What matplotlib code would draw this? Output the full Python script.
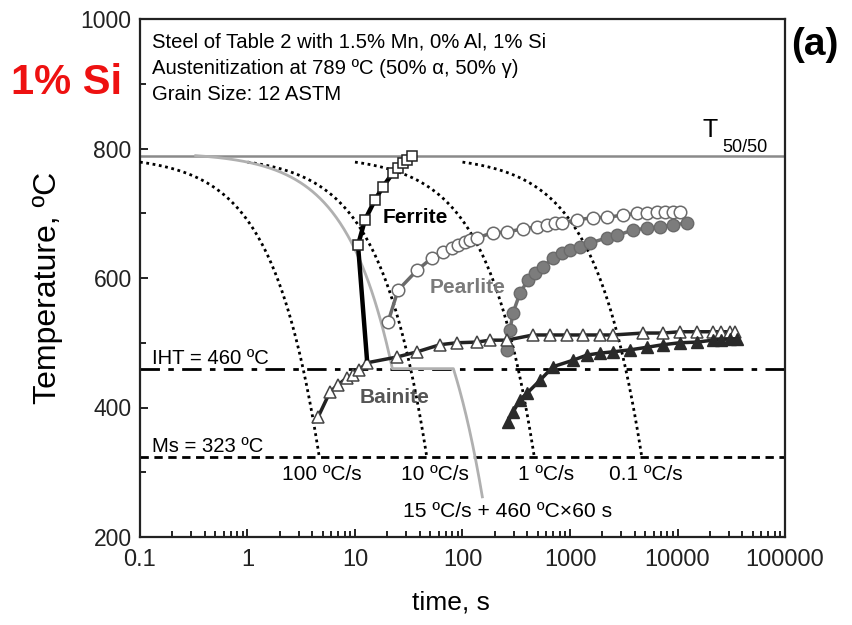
import numpy as np
import matplotlib
matplotlib.use("Agg")
import matplotlib.pyplot as plt
from matplotlib.ticker import FixedLocator, FixedFormatter, NullFormatter

plt.rcParams['font.family'] = ['Liberation Sans', 'DejaVu Sans']

# ---- data -------------------------------------------------------------
T_50_50 = 789          # start temperature (ºC)
IHT = 460              # isothermal holding temperature
MS = 323               # martensite start
cooling_rates = [100, 10, 1, 0.1]            # ºC/s
rate_labels = ["100 ºC/s", "10 ºC/s", "1 ºC/s", "0.1 ºC/s"]
rate_label_t = [4.93, 55.5, 598, 5090]

# 15 ºC/s + 460 ºC x 60 s schedule
sched_rate = 15.0
sched_start_t = 0.33
sched_hold = 60.0
sched_final_rate = 2.8
sched_end_T = 262

# ferrite start (open squares, black line)
ferrite_t = [12.9, 10.67, 12.4, 15.3, 18.2, 22.5, 25.1, 28.0, 30.5, 33.9]
ferrite_T = [476, 651, 690, 720, 741, 762, 770, 778, 783, 789]

# pearlite (open circles)
pearl_open_t = [20.3, 25.1, 37.8, 52.0, 65.9, 79.8, 90.8, 105, 117, 136, 192, 259,
                365, 493, 611, 725, 843, 1161, 1636, 2208, 3112, 4198, 5200, 6443,
                7650, 9085, 10540]
pearl_open_T = [532, 581, 612, 631, 640, 646, 651, 656, 659, 662, 670, 671,
                676, 679, 682, 685, 685, 690, 693, 694, 697, 700, 700, 702,
                702, 702, 702]

# pearlite (filled circles)
pearl_fill_t = [259, 277, 295, 343, 407, 472, 561, 695, 843, 1000, 1239, 1535,
                2208, 2735, 3855, 5200, 6871, 9085, 12250]
pearl_fill_T = [489, 520, 546, 577, 597, 608, 617, 631, 639, 643, 648, 654,
                662, 666, 674, 677, 679, 682, 685]

# bainite (open triangles)
bain_open_t = [4.53, 5.85, 6.95, 8.43, 9.58, 10.9, 12.9, 24.6, 37.8, 61.8, 88.9,
               136, 180, 259, 453, 652, 938, 1321, 1901, 2513, 4779, 7330,
               10540, 15170, 21380, 25500, 30760, 34000]
bain_open_T = [385, 424, 435, 446, 450, 458, 469, 478, 486, 497, 500,
               501, 504, 504, 512, 512, 512, 512, 512, 512, 515, 515,
               517, 517, 517, 517, 517, 517]

# bainite (filled triangles)
bain_fill_t = [265, 295, 343, 398, 526, 695, 1067, 1439, 1901, 2513, 3614, 5200,
               7330, 10540, 15170, 21380, 25500, 30760, 35700]
bain_fill_T = [378, 393, 412, 422, 442, 463, 473, 481, 484, 486, 489, 493,
               497, 500, 501, 504, 505, 506, 506]

# ---- figure -----------------------------------------------------------
fig = plt.figure(figsize=(8.53, 6.25), dpi=100)
ax = fig.add_axes([0.1641, 0.1408, 0.7562, 0.8288])
ax.set_xscale('log')
ax.set_xlim(0.1, 100000)
ax.set_ylim(200, 1000)

# T50/50 reference line
ax.axhline(T_50_50, color='#8a8a8a', lw=1.8, zorder=2)
# IHT and Ms lines
ax.axhline(IHT, color='black', lw=2.0, linestyle=(0, (7, 3, 2, 3)), zorder=2)
ax.axhline(MS, color='black', lw=2.0, linestyle=(0, (3, 2)), zorder=2)

# constant cooling-rate curves
for r, lab, lt in zip(cooling_rates, rate_labels, rate_label_t):
    t0 = 10.0 / r
    t1 = (T_50_50 - MS) / r
    t = np.logspace(np.log10(t0), np.log10(t1), 300)
    ax.plot(t, T_50_50 - r * t, color='black', lw=2.0,
            linestyle=(0, (1, 1.3)), zorder=3)
    ax.text(lt, 296, lab, ha='center', va='center', fontsize=15)

# 15 ºC/s + hold schedule
t_reach = sched_start_t + (T_50_50 - IHT) / sched_rate
t_cool = np.logspace(np.log10(sched_start_t), np.log10(t_reach), 200)
T_cool = T_50_50 - sched_rate * (t_cool - sched_start_t)
t_hold_end = t_reach + sched_hold
t_end = t_hold_end + (IHT - sched_end_T) / sched_final_rate
t_fin = np.linspace(t_hold_end, t_end, 50)
T_fin = IHT - sched_final_rate * (t_fin - t_hold_end)
ax.plot(np.concatenate([t_cool, [t_hold_end], t_fin]),
        np.concatenate([T_cool, [IHT], T_fin]),
        color='#b0b0b0', lw=2.0, zorder=3)

# transformation curves
ax.plot(ferrite_t, ferrite_T, color='black', lw=3.2, marker='s', ms=7.5,
        mfc='white', mec='#222222', mew=1.1, markevery=slice(1, None), zorder=6)
ax.plot(pearl_open_t, pearl_open_T, color='#6a6a6a', lw=2.5, marker='o', ms=9,
        mfc='white', mec='#6a6a6a', mew=1.1, zorder=5)
ax.plot(pearl_fill_t, pearl_fill_T, color='#707070', lw=2.5, marker='o', ms=9,
        mfc='#7c7c7c', mec='#6a6a6a', zorder=5)
ax.plot(bain_open_t, bain_open_T, color='#222222', lw=2.5, marker='^', ms=9,
        mfc='white', mec='#444444', mew=1.1, zorder=5)
ax.plot(bain_fill_t, bain_fill_T, color='#222222', lw=2.5, marker='^', ms=9,
        mfc='#2a2a2a', mec='#2a2a2a', zorder=5)

# labels on the plot
ax.text(18.2, 694, "Ferrite", fontsize=15, fontweight='bold', color='black',
        ha='left', va='center', zorder=7)
ax.text(49.9, 586, "Pearlite", fontsize=15, fontweight='bold', color='#7a7a7a',
        ha='left', va='center', zorder=7)
ax.text(11.1, 416, "Bainite", fontsize=15, fontweight='bold', color='#555555',
        ha='left', va='center', zorder=7)
ax.text(0.129, 476, "IHT = 460 ºC", fontsize=14.6, ha='left', va='center')
ax.text(0.129, 339, "Ms = 323 ºC", fontsize=14.6, ha='left', va='center')
ax.text(28, 239, "15 ºC/s + 460 ºC×60 s", fontsize=15.2, ha='left', va='center')
ax.text(17260, 828, "T", fontsize=18, ha='left', va='center')
ax.text(25940, 802, "50/50", fontsize=13, ha='left', va='center')

info = ["Steel of Table 2 with 1.5% Mn, 0% Al, 1% Si",
        "Austenitization at 789 ºC (50% α, 50% γ)",
        "Grain Size: 12 ASTM"]
for yy, line in zip([0.9556, 0.9054, 0.8533], info):
    ax.text(0.0186, yy, line, transform=ax.transAxes, fontsize=14.6,
            ha='left', va='center')

# axes styling
for s in ax.spines.values():
    s.set_linewidth(1.6)
    s.set_color('#222222')

ax.xaxis.set_major_locator(FixedLocator([0.1, 1, 10, 100, 1000, 10000, 100000]))
ax.xaxis.set_major_formatter(FixedFormatter(["0.1", "1", "10", "100", "1000",
                                             "10000", "100000"]))
minors = [m * 10.0 ** e for e in range(-1, 5) for m in range(2, 10)]
ax.xaxis.set_minor_locator(FixedLocator(minors))
ax.xaxis.set_minor_formatter(NullFormatter())
ax.set_yticks([200, 400, 600, 800, 1000])
ax.set_yticks([300, 500, 700, 900], minor=True)
ax.tick_params(which='both', direction='in', top=False, right=False,
               width=1.4, colors='#222222')
ax.tick_params(which='major', length=6, labelsize=16.5, pad=6)
ax.tick_params(which='minor', length=4)
ax.tick_params(axis='x', which='major', labelsize=17, pad=9)

ax.set_xlabel("time, s", fontsize=19)
ax.set_ylabel("Temperature, ºC", fontsize=23)
ax.xaxis.set_label_coords(0.482, -0.103)
ax.yaxis.set_label_coords(-0.12, 0.48)

fig.text(0.955, 0.928, "(a)", fontsize=28, fontweight='bold',
         ha='center', va='center')
fig.text(0.0785, 0.867, "1% Si", fontsize=30, fontweight='bold', color='#ee1111',
         ha='center', va='center')

fig.savefig("out.png", dpi=100)
